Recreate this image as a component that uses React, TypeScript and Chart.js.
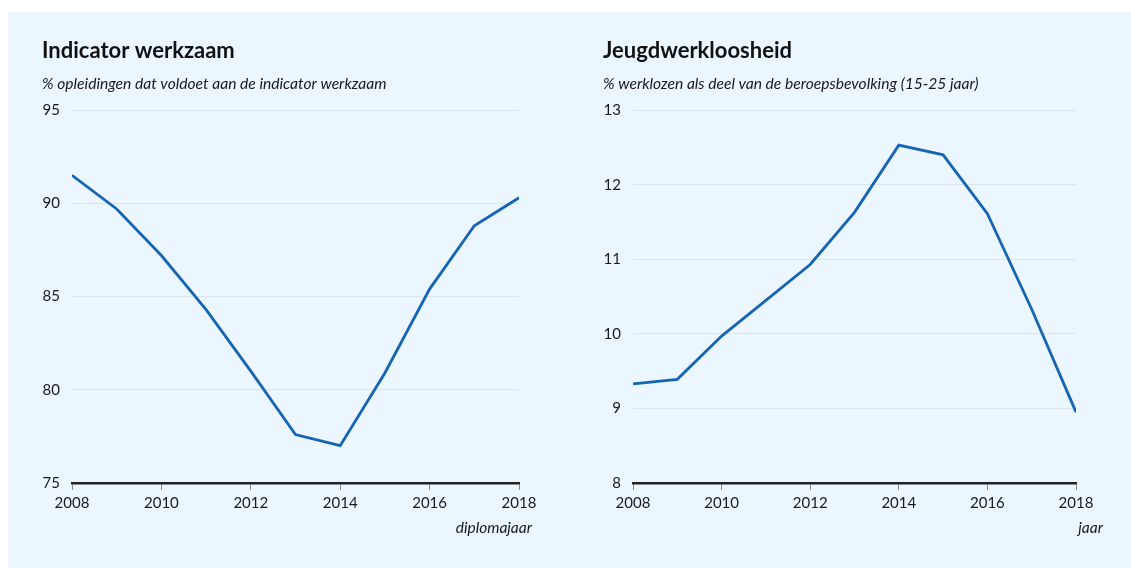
import React, { useEffect, useRef } from "react";
import { Chart, registerables } from "chart.js";

Chart.register(...registerables);

const years = [2008, 2009, 2010, 2011, 2012, 2013, 2014, 2015, 2016, 2017, 2018];
const werkzaamValues = [91.5, 89.7, 87.2, 84.3, 81.0, 77.6, 77.0, 80.9, 85.4, 88.8, 90.3];
const jeugdValues = [9.33, 9.39, 9.97, 10.45, 10.93, 11.63, 12.53, 12.40, 11.61, 10.33, 8.95];

const leftTitle = "Indicator werkzaam";
const leftSubtitle = "% opleidingen dat voldoet aan de indicator werkzaam";
const leftNote = "diplomajaar";
const rightTitle = "Jeugdwerkloosheid";
const rightSubtitle = "% werklozen als deel van de beroepsbevolking (15-25 jaar)";
const rightNote = "jaar";

const FONT = "Lato, 'Open Sans', sans-serif";
const LINE = "#1565b4";
const TEXT = "#1a1a1a";

const notePlugin = {
  id: "axisNote",
  afterDraw(chart: any, _args: any, opts: any) {
    const { ctx, chartArea } = chart;
    ctx.save();
    ctx.font = `italic 15.5px ${FONT}`;
    ctx.textAlign = "right";
    ctx.textBaseline = "alphabetic";
    ctx.fillStyle = TEXT;
    ctx.fillText(opts.text, chartArea.right + opts.dx, chartArea.bottom + opts.dy);
    ctx.restore();
  },
};

function makeConfig(p: {
  values: number[];
  title: string;
  subtitle: string;
  note: string;
  noteDx: number;
  min: number;
  max: number;
  step: number;
  padLeft: number;
  padRight: number;
}) {
  return {
    type: "line" as const,
    data: {
      datasets: [
        {
          data: years.map((y, i) => ({ x: y, y: p.values[i] })),
          borderColor: LINE,
          borderWidth: 2.8,
          pointRadius: 0,
          tension: 0,
          fill: false,
        },
      ],
    },
    plugins: [notePlugin],
    options: {
      animation: false,
      responsive: false,
      maintainAspectRatio: false,
      layout: { padding: { left: p.padLeft, right: p.padRight, top: 26, bottom: 45 } },
      plugins: {
        legend: { display: false },
        tooltip: { enabled: false },
        title: {
          display: true,
          text: p.title,
          align: "start",
          color: "#111111",
          font: { family: FONT, size: 22, weight: "bold" },
          padding: { top: 0, bottom: 9 },
        },
        subtitle: {
          display: true,
          text: p.subtitle,
          align: "start",
          color: TEXT,
          font: { family: FONT, size: 15.6, style: "italic" },
          padding: { top: 1, bottom: 17 },
        },
        axisNote: { text: p.note, dx: p.noteDx, dy: 50 },
      },
      scales: {
        x: {
          type: "linear",
          min: 2008,
          max: 2018,
          afterFit: (s: any) => {
            s.height = 40;
          },
          ticks: {
            stepSize: 2,
            color: TEXT,
            padding: 4,
            maxRotation: 0,
            font: { family: FONT, size: 15 },
            callback: (v: any) => String(v),
          },
          grid: {
            drawOnChartArea: false,
            drawTicks: true,
            tickLength: 7,
            tickColor: "#8a8a8a",
            tickWidth: 1,
          },
          border: { display: true, color: "#222222", width: 2.5 },
        },
        y: {
          min: p.min,
          max: p.max,
          afterFit: (s: any) => {
            s.width = 30;
          },
          ticks: {
            stepSize: p.step,
            color: TEXT,
            padding: 12,
            font: { family: FONT, size: 15 },
          },
          grid: {
            color: "#dce5ee",
            lineWidth: 1,
            drawTicks: false,
          },
          border: { display: false },
        },
      },
    },
  };
}

function ChartCanvas(props: { config: any; width: number; height: number; left: number }) {
  const ref = useRef<HTMLCanvasElement | null>(null);
  useEffect(() => {
    if (!ref.current) return;
    const chart = new Chart(ref.current, props.config);
    return () => chart.destroy();
  }, []);
  return (
    <canvas
      ref={ref}
      width={props.width}
      height={props.height}
      style={{ position: "absolute", left: props.left, top: 0, width: props.width, height: props.height }}
    />
  );
}

export default function App() {
  const leftCfg = makeConfig({
    values: werkzaamValues,
    title: leftTitle,
    subtitle: leftSubtitle,
    note: leftNote,
    noteDx: 13,
    min: 75,
    max: 95,
    step: 5,
    padLeft: 34,
    padRight: 46,
  });
  const rightCfg = makeConfig({
    values: jeugdValues,
    title: rightTitle,
    subtitle: rightSubtitle,
    note: rightNote,
    noteDx: 27,
    min: 8,
    max: 13,
    step: 1,
    padLeft: 38,
    padRight: 55,
  });
  return (
    <div
      style={{
        position: "absolute",
        left: 8,
        top: 12,
        width: 1123,
        height: 556,
        background: "#ebf6fe",
        overflow: "hidden",
      }}
    >
      <ChartCanvas config={leftCfg} width={557} height={556} left={0} />
      <ChartCanvas config={rightCfg} width={566} height={556} left={557} />
    </div>
  );
}
